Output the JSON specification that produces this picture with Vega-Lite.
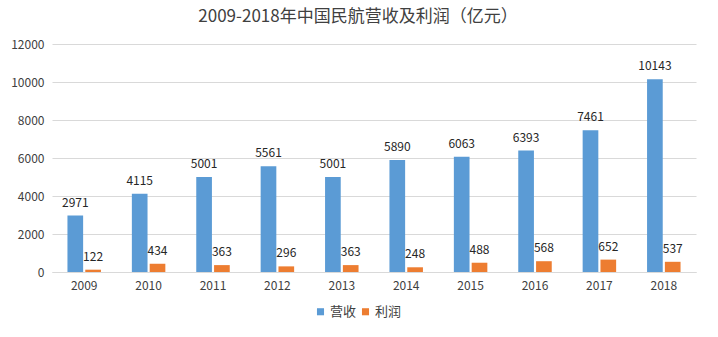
{
  "$schema": "https://vega.github.io/schema/vega-lite/v6.json",
  "width": 644,
  "height": 228,
  "autosize": "none",
  "padding": {"left": 52, "top": 44, "right": 22, "bottom": 65},
  "background": "white",
  "title": {
    "text": "2009-2018年中国民航营收及利润（亿元）",
    "font": "Noto Sans CJK SC",
    "fontSize": 17,
    "fontWeight": "normal",
    "color": "#404040",
    "anchor": "middle",
    "dx": -16,
    "offset": 12
  },
  "config": {
    "view": {"stroke": null},
    "font": "Noto Sans CJK SC"
  },
  "data": {
    "values": [
      {"year": "2009", "type": "营收", "value": 2971},
      {"year": "2009", "type": "利润", "value": 122},
      {"year": "2010", "type": "营收", "value": 4115},
      {"year": "2010", "type": "利润", "value": 434},
      {"year": "2011", "type": "营收", "value": 5001},
      {"year": "2011", "type": "利润", "value": 363},
      {"year": "2012", "type": "营收", "value": 5561},
      {"year": "2012", "type": "利润", "value": 296},
      {"year": "2013", "type": "营收", "value": 5001},
      {"year": "2013", "type": "利润", "value": 363},
      {"year": "2014", "type": "营收", "value": 5890},
      {"year": "2014", "type": "利润", "value": 248},
      {"year": "2015", "type": "营收", "value": 6063},
      {"year": "2015", "type": "利润", "value": 488},
      {"year": "2016", "type": "营收", "value": 6393},
      {"year": "2016", "type": "利润", "value": 568},
      {"year": "2017", "type": "营收", "value": 7461},
      {"year": "2017", "type": "利润", "value": 652},
      {"year": "2018", "type": "营收", "value": 10143},
      {"year": "2018", "type": "利润", "value": 537}
    ]
  },
  "encoding": {
    "x": {
      "field": "year",
      "type": "nominal",
      "scale": {"paddingInner": 0.48, "paddingOuter": 0.24},
      "axis": {
        "title": null,
        "labelAngle": 0,
        "labelFontSize": 12,
        "labelColor": "#404040",
        "labelPadding": 8,
        "ticks": false,
        "domainColor": "#D9D9D9"
      }
    },
    "xOffset": {
      "field": "type",
      "type": "nominal",
      "sort": ["营收", "利润"],
      "scale": {"paddingInner": 0.12}
    },
    "y": {
      "field": "value",
      "type": "quantitative",
      "scale": {"domain": [0, 12000]},
      "axis": {
        "title": null,
        "values": [0, 2000, 4000, 6000, 8000, 10000, 12000],
        "format": "d",
        "labelFontSize": 12,
        "labelColor": "#404040",
        "labelPadding": 8,
        "ticks": false,
        "domain": false,
        "gridColor": "#D9D9D9"
      }
    }
  },
  "layer": [
    {
      "mark": {"type": "bar"},
      "encoding": {
        "color": {
          "field": "type",
          "type": "nominal",
          "sort": ["营收", "利润"],
          "scale": {"domain": ["营收", "利润"], "range": ["#5B9BD5", "#ED7D31"]},
          "legend": {
            "title": null,
            "orient": "none",
            "direction": "horizontal",
            "legendX": 262,
            "legendY": 261,
            "symbolType": "square",
            "symbolSize": 50,
            "symbolStrokeWidth": 0,
            "labelFontSize": 13,
            "labelColor": "#404040",
            "columnPadding": 2,
            "labelOffset": 3
          }
        }
      }
    },
    {
      "mark": {"type": "text", "baseline": "bottom", "dy": -6, "fontSize": 12, "color": "#262626"},
      "encoding": {
        "text": {"field": "value", "type": "quantitative", "format": "d"}
      }
    }
  ]
}
